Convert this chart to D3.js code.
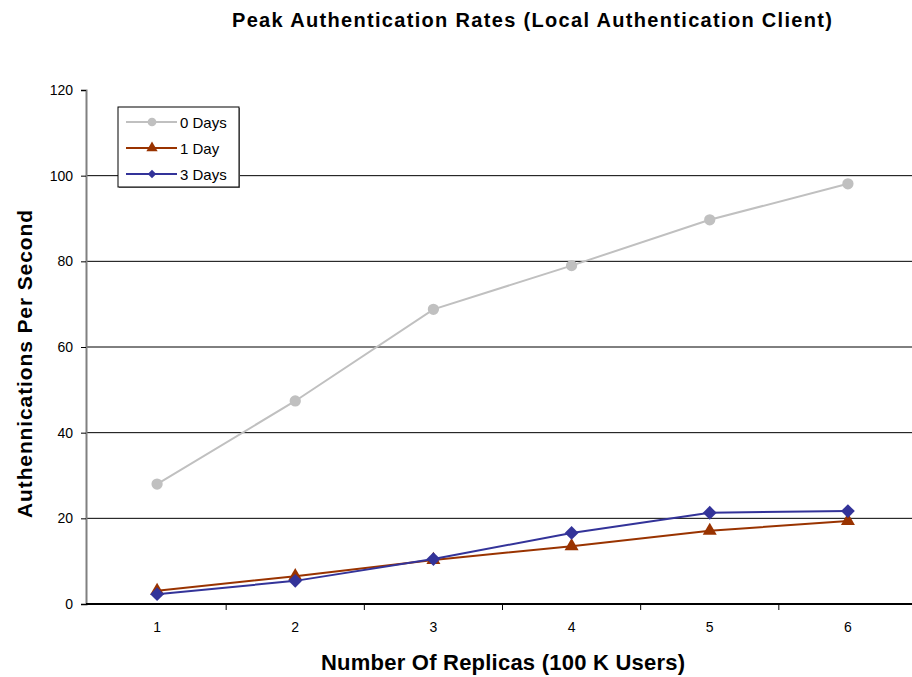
<!DOCTYPE html>
<html>
<head>
<meta charset="utf-8">
<script src="https://cdn.jsdelivr.net/npm/d3@7"></script>
<style>
  body { margin: 0; background: #fff; }
  text { font-family: Arial, "Liberation Sans", sans-serif; }
</style>
</head>
<body>
<svg id="plot" width="912" height="677"></svg>
<script>
const replicas = ["1", "2", "3", "4", "5", "6"]
const days0 = [28.0, 47.4, 68.8, 79.0, 89.7, 98.1]
const day1 = [3.1, 6.5, 10.3, 13.5, 17.1, 19.4]
const days3 = [2.3, 5.4, 10.5, 16.6, 21.3, 21.7]
const yTicks = [0, 20, 40, 60, 80, 100, 120]

const series = [
    { name: "0 Days", values: days0, color: "#c0c0c0", marker: "circle" },
    { name: "1 Day", values: day1, color: "#993300", marker: "triangle" },
    { name: "3 Days", values: days3, color: "#333399", marker: "diamond" }
]

width = 912
height = 677
margin = ({ top: 90, right: 0, bottom: 73, left: 86 })

const svg = d3.select("#plot")

x = d3.scaleBand()
    .domain(replicas)
    .range([88, 917])

y = d3.scaleLinear()
    .domain([0, 120])
    .range([height - margin.bottom, margin.top])

// gridlines
svg.append("g")
    .selectAll("line")
    .data(yTicks.filter(d => d > 0 && d < 120))
    .join("line")
    .attr("x1", margin.left)
    .attr("x2", width)
    .attr("y1", d => y(d))
    .attr("y2", d => y(d))
    .attr("stroke", "#000")
    .attr("stroke-width", 1)

// y axis
svg.append("g")
    .attr("transform", `translate(${margin.left},0)`)
    .call(d3.axisLeft(y).tickValues(yTicks).tickSize(5).tickPadding(8))
    .call(g => g.select(".domain").attr("stroke", "#808080").attr("stroke-width", 2))
    .call(g => g.selectAll(".tick line").attr("stroke", "#000"))
    .call(g => g.selectAll(".tick text").attr("font-size", 14).attr("fill", "#000")
        .attr("font-family", "Arial, 'Liberation Sans', sans-serif"))

// x axis
const xg = svg.append("g")
    .attr("transform", `translate(0,${y(0)})`)
xg.append("line")
    .attr("x1", margin.left).attr("x2", width)
    .attr("stroke", "#000").attr("stroke-width", 2)
xg.selectAll(".tk")
    .data(replicas.slice(1))
    .join("line")
    .attr("x1", d => x(d)).attr("x2", d => x(d))
    .attr("y1", 0).attr("y2", 6)
    .attr("stroke", "#000")
xg.selectAll("text")
    .data(replicas)
    .join("text")
    .attr("x", d => x(d) + x.bandwidth() / 2)
    .attr("y", 28)
    .attr("text-anchor", "middle")
    .attr("font-size", 14)
    .text(d => d)

const cx = (d, i) => x(replicas[i]) + x.bandwidth() / 2

line = d3.line()
    .x((d, i) => cx(d, i))
    .y(d => y(d))

const symbols = {
    circle: d3.symbol(d3.symbolCircle, 100),
    triangle: d3.symbol(d3.symbolTriangle, 85),
    diamond: d3.symbol(d3.symbolSquare, 95)
}
const rot = m => m === "diamond" ? " rotate(45)" : ""

series.forEach(s => {
    svg.append("path")
        .datum(s.values)
        .attr("fill", "none")
        .attr("stroke", s.color)
        .attr("stroke-width", 2)
        .attr("d", line)
    svg.append("g")
        .selectAll("path")
        .data(s.values)
        .join("path")
        .attr("transform", (d, i) => `translate(${cx(d, i)},${y(d)})` + rot(s.marker))
        .attr("d", symbols[s.marker]())
        .attr("fill", s.color)
})

// legend
const lg = svg.append("g").attr("transform", "translate(118,107)")
lg.append("rect")
    .attr("x", 1).attr("y", 1).attr("width", 121).attr("height", 80)
    .attr("fill", "#808080")
lg.append("rect")
    .attr("width", 121).attr("height", 80)
    .attr("fill", "#fff").attr("stroke", "#000")
const smallSymbols = {
    circle: d3.symbol(d3.symbolCircle, 60),
    triangle: d3.symbol(d3.symbolTriangle, 55),
    diamond: d3.symbol(d3.symbolSquare, 36)
}
series.forEach((s, i) => {
    const row = lg.append("g").attr("transform", `translate(0,${15 + i * 26})`)
    row.append("line")
        .attr("x1", 8).attr("x2", 59)
        .attr("stroke", s.color).attr("stroke-width", 2)
    row.append("path")
        .attr("transform", "translate(34,0)" + rot(s.marker))
        .attr("d", smallSymbols[s.marker]())
        .attr("fill", s.color)
    row.append("text")
        .attr("x", 62).attr("y", 5.5)
        .attr("font-size", 15)
        .text(s.name)
})

// titles
svg.append("text")
    .attr("x", 532).attr("y", 27)
    .attr("text-anchor", "middle")
    .attr("font-size", 20).attr("font-weight", "bold")
    .attr("textLength", 600).attr("lengthAdjust", "spacing")
    .text("Peak Authentication Rates (Local Authentication Client)")

svg.append("text")
    .attr("x", 503).attr("y", 670)
    .attr("text-anchor", "middle")
    .attr("font-size", 22).attr("font-weight", "bold")
    .attr("textLength", 364).attr("lengthAdjust", "spacing")
    .text("Number Of Replicas (100 K Users)")

svg.append("text")
    .attr("transform", "translate(32,364) rotate(-90)")
    .attr("text-anchor", "middle")
    .attr("font-size", 21).attr("font-weight", "bold")
    .attr("textLength", 308).attr("lengthAdjust", "spacing")
    .text("Authennications Per Second")
</script>
</body>
</html>
